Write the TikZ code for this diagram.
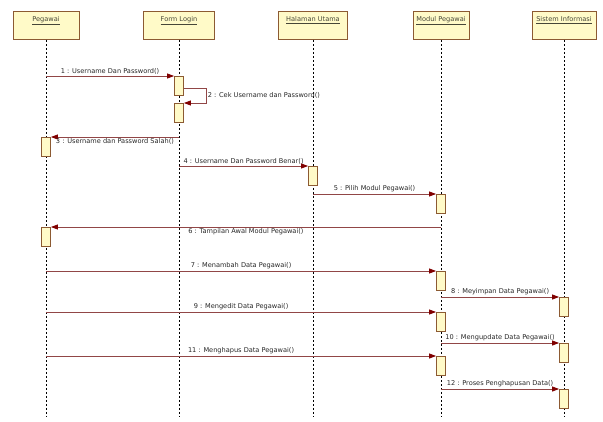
\documentclass[tikz,border=0pt]{standalone}
\usepackage{fontspec}
\setmainfont{DejaVu Sans}
\usetikzlibrary{arrows.meta}
\definecolor{boxfill}{RGB}{255,250,200}
\definecolor{boxline}{RGB}{140,90,50}
\definecolor{msgline}{RGB}{145,70,70}
\definecolor{msgtip}{RGB}{128,0,0}
\definecolor{headtext}{RGB}{70,70,55}

\begin{document}
\begin{tikzpicture}[x=1pt,y=-1pt,
    font=\fontsize{6.6}{8}\selectfont,
    obj/.style={draw=boxline,fill=boxfill,line width=0.8pt,anchor=north,inner xsep=0pt,inner ysep=4pt,
      text height=6pt,text depth=14pt,text=headtext},
    act/.style={draw=boxline,fill=boxfill,line width=0.8pt,anchor=north,inner sep=0pt,
      minimum width=9pt,minimum height=19pt},
    life/.style={black,line width=0.6pt,dash pattern=on 2pt off 2pt},
    msg/.style={msgline,line width=0.8pt,-{Triangle[length=7pt,width=5pt,color=msgtip]}},
    lbl/.style={text=black!85,inner sep=1.5pt}]
  \useasboundingbox (0,0) rectangle (603,421);
  \node[obj,minimum width=66pt] (pegawai) at (46,11) {\underline{Pegawai}};
  \node[obj,minimum width=71pt] (form) at (179,11) {\underline{Form Login}};
  \node[obj,minimum width=69pt] (halaman) at (313,11) {\underline{Halaman Utama}};
  \node[obj,minimum width=56pt] (modul) at (441,11) {\underline{Modul Pegawai}};
  \node[obj,minimum width=64pt] (sistem) at (564,11) {\underline{Sistem Informasi}};
  \coordinate (bottom) at (0,417);
  \foreach \o in {pegawai,form,halaman,modul,sistem}
    \draw[life] (\o.south) -- (\o |- bottom);
  \node[act] (a1) at (form |- 0,76) {};
  \node[act] (a2) at (form |- 0,103) {};
  \node[act] (a3) at (pegawai |- 0,137) {};
  \node[act] (a4) at (halaman |- 0,166) {};
  \node[act] (a5) at (modul |- 0,194) {};
  \node[act] (a6) at (pegawai |- 0,227) {};
  \node[act] (a7) at (modul |- 0,271) {};
  \node[act] (a8) at (sistem |- 0,297) {};
  \node[act] (a9) at (modul |- 0,312) {};
  \node[act] (a10) at (sistem |- 0,343) {};
  \node[act] (a11) at (modul |- 0,356) {};
  \node[act] (a12) at (sistem |- 0,389) {};
  \draw[msg] (pegawai |- a1.north) -- node[lbl,above] (m1) {1 : Username Dan Password()} (a1.north west);
  \draw[msg] (a1.east |- 0,88) -- ++(22,0) |- node[lbl,pos=0.25,right] (m2) {2 : Cek Username dan Password()} (a2.north east);
  \draw[msg] (form |- a3.north) -- node[lbl,below] (m3) {3 : Username dan Password Salah()} (a3.north east);
  \draw[msg] (form |- a4.north) -- node[lbl,above] (m4) {4 : Username Dan Password Benar()} (a4.north west);
  \draw[msg] (halaman |- a5.north) -- node[lbl,above] (m5) {5 : Pilih Modul Pegawai()} (a5.north west);
  \draw[msg] (modul |- a6.north) -- node[lbl,below] (m6) {6 : Tampilan Awal Modul Pegawai()} (a6.north east);
  \draw[msg] (pegawai |- a7.north) -- node[lbl,above] (m7) {7 : Menambah Data Pegawai()} (a7.north west);
  \draw[msg] (modul |- a8.north) -- node[lbl,above] (m8) {8 : Meyimpan Data Pegawai()} (a8.north west);
  \draw[msg] (pegawai |- a9.north) -- node[lbl,above] (m9) {9 : Mengedit Data Pegawai()} (a9.north west);
  \draw[msg] (modul |- a10.north) -- node[lbl,above] (m10) {10 : Mengupdate Data Pegawai()} (a10.north west);
  \draw[msg] (pegawai |- a11.north) -- node[lbl,above] (m11) {11 : Menghapus Data Pegawai()} (a11.north west);
  \draw[msg] (modul |- a12.north) -- node[lbl,above] (m12) {12 : Proses Penghapusan Data()} (a12.north west);
\end{tikzpicture}
\end{document}
